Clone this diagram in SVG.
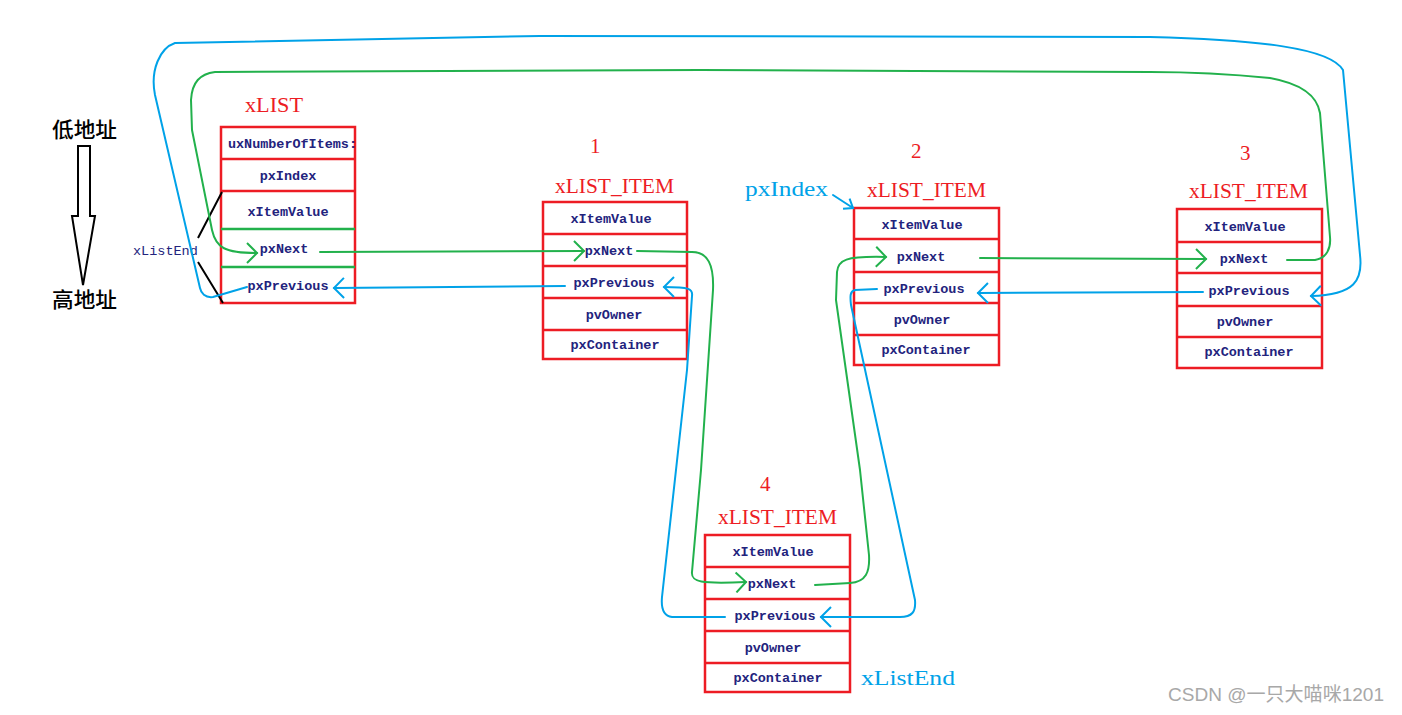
<svg xmlns="http://www.w3.org/2000/svg" width="1402" height="715" viewBox="0 0 1402 715">
<style>
.box{fill:#fff;stroke:#ed1c24;stroke-width:2.5}
.div{stroke:#ed1c24;stroke-width:2.5}
.cell{font-family:"Liberation Mono",monospace;font-weight:bold;font-size:13.5px;fill:#23237d;text-anchor:middle}
.red{font-family:"Liberation Serif",serif;font-size:21px;fill:#ed1c24}
.blue{font-family:"Liberation Serif",serif;font-size:21px;fill:#00a2e8}
.g{fill:none;stroke:#22b14c;stroke-width:2;stroke-linecap:round;stroke-linejoin:round}
.b{fill:none;stroke:#00a2e8;stroke-width:2;stroke-linecap:round;stroke-linejoin:round}
.k{fill:none;stroke:#000;stroke-width:2}
.cjk{font-family:"Noto Sans CJK SC",sans-serif;font-size:21px;font-weight:500;fill:#000}
</style>
<defs>
<marker id="ag" markerUnits="userSpaceOnUse" markerWidth="14" markerHeight="22" viewBox="0 0 14 22" refX="12" refY="11" orient="auto">
<path d="M2,1 L12,11 L2,21" fill="none" stroke="#22b14c" stroke-width="2"/>
</marker>
<marker id="ab" markerUnits="userSpaceOnUse" markerWidth="14" markerHeight="22" viewBox="0 0 14 22" refX="12" refY="11" orient="auto">
<path d="M2,1 L12,11 L2,21" fill="none" stroke="#00a2e8" stroke-width="2"/>
</marker>
<marker id="abs" markerUnits="userSpaceOnUse" markerWidth="12" markerHeight="14" viewBox="0 0 12 14" refX="10" refY="7" orient="auto">
<path d="M2,1 L10,7 L2,13" fill="none" stroke="#00a2e8" stroke-width="2"/>
</marker>
<clipPath id="clipList"><rect x="215" y="120" width="142" height="40"/></clipPath>
</defs>

<g id="address-axis">
<text class="cjk" x="52" y="137" textLength="65" lengthAdjust="spacingAndGlyphs">低地址</text>
<polygon class="k" fill="#fff" points="78,146 90,146 90,216 95,216 83,285 72,216 78,216"/>
<text class="cjk" x="52" y="307" textLength="65" lengthAdjust="spacingAndGlyphs">高地址</text>
</g>

<g id="xLIST">
<text class="red" x="245" y="112" textLength="58" lengthAdjust="spacingAndGlyphs">xLIST</text>
<rect class="box" x="221" y="127" width="134" height="176"/>
<line class="div" x1="221" y1="159" x2="355" y2="159"/>
<line class="div" x1="221" y1="191" x2="355" y2="191"/>
<line x1="221" y1="229" x2="355" y2="229" stroke="#22b14c" stroke-width="2.5"/>
<line x1="221" y1="267" x2="355" y2="267" stroke="#22b14c" stroke-width="2.5"/>
<text class="cell" x="228" y="148" style="text-anchor:start" textLength="129" lengthAdjust="spacingAndGlyphs" clip-path="url(#clipList)">uxNumberOfItems:</text>
<text class="cell" x="288" y="180">pxIndex</text>
<text class="cell" x="288" y="216">xItemValue</text>
<text class="cell" x="284" y="253">pxNext</text>
<text class="cell" x="288" y="290">pxPrevious</text>
<text x="133" y="255" style="font-family:'Liberation Mono',monospace;font-size:13.5px;fill:#23237d">xListEnd</text>
<path class="k" d="M222,192 L198,238 M198,262 L223,303"/>
</g>

<g id="item1">
<text class="red" x="590" y="153">1</text>
<text class="red" x="555" y="193" textLength="119" lengthAdjust="spacingAndGlyphs">xLIST_ITEM</text>
<rect class="box" x="543" y="202" width="144" height="157"/>
<line class="div" x1="543" y1="234" x2="687" y2="234"/>
<line class="div" x1="543" y1="266" x2="687" y2="266"/>
<line class="div" x1="543" y1="298" x2="687" y2="298"/>
<line class="div" x1="543" y1="330" x2="687" y2="330"/>
<text class="cell" x="611" y="223">xItemValue</text>
<text class="cell" x="609" y="255">pxNext</text>
<text class="cell" x="614" y="287">pxPrevious</text>
<text class="cell" x="614" y="319">pvOwner</text>
<text class="cell" x="615" y="349">pxContainer</text>
</g>

<g id="item2">
<text class="red" x="911" y="158">2</text>
<text class="red" x="867" y="197" textLength="119" lengthAdjust="spacingAndGlyphs">xLIST_ITEM</text>
<text class="blue" x="745" y="196" textLength="83" lengthAdjust="spacingAndGlyphs">pxIndex</text>
<rect class="box" x="854" y="208" width="145" height="157"/>
<line class="div" x1="854" y1="239" x2="999" y2="239"/>
<line class="div" x1="854" y1="272" x2="999" y2="272"/>
<line class="div" x1="854" y1="303" x2="999" y2="303"/>
<line class="div" x1="854" y1="335" x2="999" y2="335"/>
<text class="cell" x="922" y="229">xItemValue</text>
<text class="cell" x="921" y="261">pxNext</text>
<text class="cell" x="924" y="293">pxPrevious</text>
<text class="cell" x="922" y="324">pvOwner</text>
<text class="cell" x="926" y="354">pxContainer</text>
</g>

<g id="item3">
<text class="red" x="1240" y="160">3</text>
<text class="red" x="1189" y="198" textLength="119" lengthAdjust="spacingAndGlyphs">xLIST_ITEM</text>
<rect class="box" x="1177" y="209" width="145" height="159"/>
<line class="div" x1="1177" y1="242" x2="1322" y2="242"/>
<line class="div" x1="1177" y1="273" x2="1322" y2="273"/>
<line class="div" x1="1177" y1="306" x2="1322" y2="306"/>
<line class="div" x1="1177" y1="337" x2="1322" y2="337"/>
<text class="cell" x="1245" y="231">xItemValue</text>
<text class="cell" x="1244" y="263">pxNext</text>
<text class="cell" x="1249" y="295">pxPrevious</text>
<text class="cell" x="1245" y="326">pvOwner</text>
<text class="cell" x="1249" y="356">pxContainer</text>
</g>

<g id="item4">
<text class="red" x="760" y="491">4</text>
<text class="red" x="718" y="524" textLength="119" lengthAdjust="spacingAndGlyphs">xLIST_ITEM</text>
<rect class="box" x="705" y="535" width="145" height="157"/>
<line class="div" x1="705" y1="567" x2="850" y2="567"/>
<line class="div" x1="705" y1="599" x2="850" y2="599"/>
<line class="div" x1="705" y1="631" x2="850" y2="631"/>
<line class="div" x1="705" y1="663" x2="850" y2="663"/>
<text class="cell" x="773" y="556">xItemValue</text>
<text class="cell" x="772" y="588">pxNext</text>
<text class="cell" x="775" y="620">pxPrevious</text>
<text class="cell" x="773" y="652">pvOwner</text>
<text class="cell" x="778" y="682">pxContainer</text>
<text class="blue" x="861" y="685" textLength="94" lengthAdjust="spacingAndGlyphs">xListEnd</text>
</g>

<g id="connectors">
<path class="g" marker-end="url(#ag)" d="M320,252 L584,251"/>
<path class="g" marker-end="url(#ag)" d="M637,251 L692,252 C708,252 714,265 713,290 L701,470 L692,572 C691,582 700,584 746,582"/>
<path class="g" marker-end="url(#ag)" d="M815,585 L850,583 C866,582 870,572 869,555 L860,470 L836,300 L837,272 C838,260 845,256 886,257"/>
<path class="g" marker-end="url(#ag)" d="M980,258 L1206,259"/>
<path class="g" marker-end="url(#ag)" d="M1287,260 L1315,260 C1327,258 1331,248 1330,237 L1320,113 C1317,96 1303,84 1270,78 C1220,73 1180,72 1150,72 L700,70 L215,72 C200,74 192,82 191,100 L192,130 L212,230 C216,248 225,253 257,253"/>
<path class="b" marker-end="url(#ab)" d="M565,286 L334,288"/>
<path class="b" marker-end="url(#ab)" d="M725,617 L672,617 C663,616 661,608 662,597 L687,370 L692,296 C693,289 690,287 664,287"/>
<path class="b" marker-end="url(#ab)" d="M877,289 L855,290 C850,291 850,296 851,305 L915,600 C916,612 912,617 900,617 L821,617"/>
<path class="b" marker-end="url(#ab)" d="M1203,292 L978,293"/>
<path class="b" marker-end="url(#ab)" d="M247,287 L213,297 C205,298 201,293 200,288 L155,95 C150,70 160,48 175,43 L540,36 L1150,37 C1260,40 1330,48 1343,70 L1360,255 C1363,280 1355,295 1311,296"/>
<path class="b" marker-end="url(#abs)" d="M833,195 L853,208"/>
</g>

<text x="1168" y="701" textLength="216" lengthAdjust="spacingAndGlyphs" style="font-family:'Liberation Sans','Noto Sans CJK SC',sans-serif;font-size:19px;fill:#a8a8a8">CSDN @一只大喵咪1201</text>
</svg>
